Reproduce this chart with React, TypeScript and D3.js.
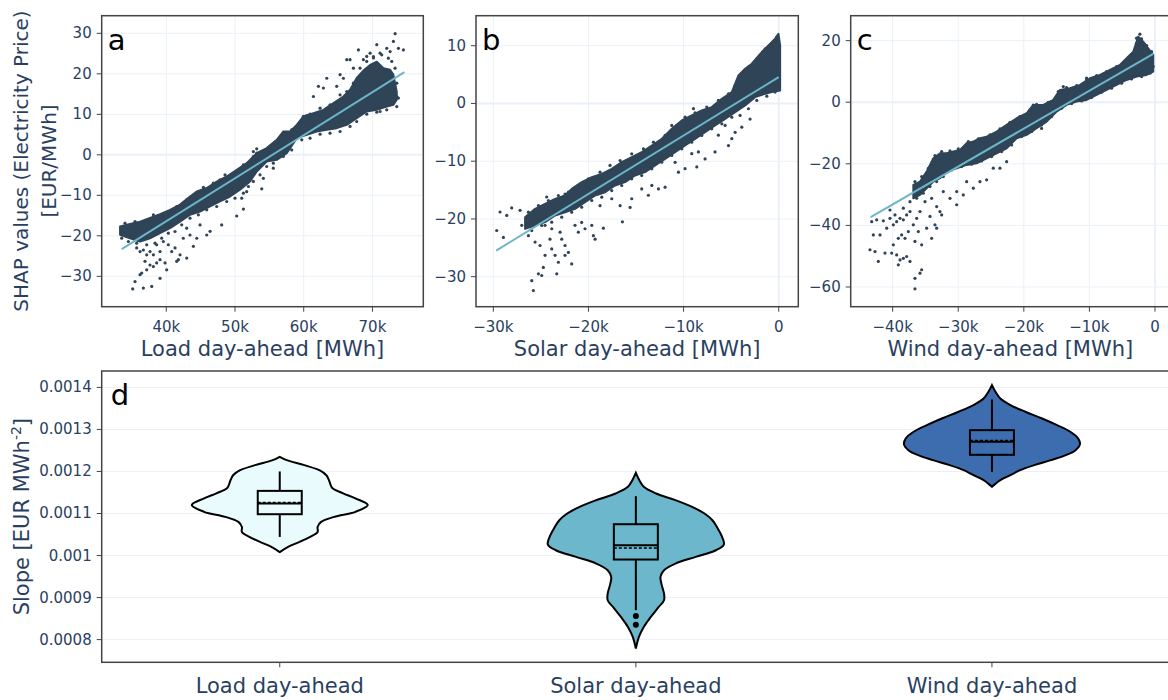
import * as d3 from 'd3';

// ---- panel a: load day-ahead vs SHAP value (MWh, EUR/MWh)
const loadUpperX = [33270, 34720, 36180, 37630, 39090, 40540, 42000, 43450, 44430, 45880, 47340, 48790, 50250, 51700, 53160, 54610, 56070, 57040, 58010, 58980, 59950, 61410, 62860, 64320, 65770, 66740, 67710, 68680, 69660, 70630, 71600, 72570, 73050, 73540];
const loadUpperY = [-17.7, -17.1, -16.5, -15.6, -14.65, -13.6, -12.3, -10.3, -9.05, -8.2, -6.6, -5.35, -3.7, -2.06, 0.41, 1.65, 3.7, 5.76, 5.76, 7.4, 9.47, 10.3, 11.1, 12.75, 14.4, 16.05, 19.0, 20.8, 22.2, 23.0, 21.4, 21.0, 19.75, 15.6];
const loadLowerX = [33270, 34720, 36180, 37630, 39090, 40540, 42000, 43450, 44910, 46370, 47820, 49280, 50730, 52190, 53160, 54610, 56070, 57530, 58980, 60440, 61890, 63350, 64800, 66260, 67710, 69170, 70630, 72080, 73050, 73540];
const loadLowerY = [-19.75, -20.6, -21.4, -20.6, -19.35, -18.1, -16.5, -14.8, -14.0, -12.75, -11.5, -10.3, -8.6, -6.6, -4.1, -1.65, -1.23, 0.41, 4.12, 4.94, 5.76, 6.17, 6.58, 7.4, 9.05, 10.7, 11.1, 11.9, 12.35, 13.6];
const loadPtsX = [
  35110, 36660, 37880, 39090, 35450, 36420, 37150, 37630, 38120, 38600, 39090, 39820, 36900, 40060, 36180, 42000,
  41510, 40790, 40300, 39570, 38600, 37630, 37150, 36660, 36180, 35690, 42480, 43450, 44430, 45880, 48060, 46370,
  50250, 51220, 50980, 51700, 53890, 54130, 55580, 58250, 44910, 42970, 43940, 42970, 41760, 41270, 39090, 38120,
  73300, 73050, 74510, 73780, 70630, 71110, 67960, 66740, 66260, 68680, 63350, 62140, 62860, 64800, 61410, 65770,
  65290, 73780, 73540, 71110, 72570, 72080, 69660, 70140, 69170, 67230, 59950, 60920, 54610, 52670, 53160,
  33990, 35450, 38120, 41510, 42970, 45400, 46850, 47820, 48550, 51220, 52670, 53160, 53890, 55100, 56560, 57530,
  58250, 60440, 60920, 62380, 63830, 65290, 66260, 67230, 68200, 69170, 70140, 71350, 72320, 72810, 73290, 73540,
  73540, 73050, 72080, 70630, 69170, 67710, 66740, 65290, 63830, 62380, 60920, 59710, 58250, 57040, 55580, 54610,
  53640, 52670, 51950, 51220, 50000, 48790, 47340, 45880, 44670, 43450, 42240, 41270, 40300, 39330, 38360, 37150,
  35690, 34480, 33510, 33750,
];
const loadPtsY = [
  -33.1, -32.9, -32.5, -30.5, -31.3, -29.2, -28.4, -27.2, -27.6, -26.7, -25.9, -26.7, -26.3, -28.4, -29.6, -24.7,
  -26.3, -23.9, -22.2, -21.4, -22.2, -23.9, -24.7, -23.5, -23.9, -23.0, -20.6, -19.8, -20.6, -19.8, -17.3, -18.9,
  -15.1, -13.4, -10.7, -9.1, -8.4, -5.8, -3.3, 1.2, -17.3, -18.1, -22.6, -25.5, -25.9, -23.0, -23.9, -24.7,
  29.9, 28.0, 25.9, 26.3, 27.2, 25.1, 25.9, 23.5, 23.5, 23.5, 18.9, 16.9, 16.5, 16.9, 14.4, 18.9,
  19.8, 14.0, 11.9, 10.7, 25.5, 26.3, 25.1, 23.9, 24.3, 21.4, 9.5, 9.5, 1.2, 0.8, 0.4,
  -16.87, -16.46, -14.81, -12.76, -11.11, -8.06, -7.0, -6.17, -4.94, -2.47, -0.41, 1.48, 0.82, 2.06, 4.12, 4.94,
  6.17, 9.71, 10.04, 11.52, 12.35, 14.82, 15.64, 17.7, 21.4, 23.05, 24.28, 24.69, 23.87, 23.05, 21.4, 17.7,
  14.4, 12.76, 11.11, 10.54, 10.04, 8.23, 7.0, 5.76, 5.35, 5.1, 4.12, 3.7, 3.29, -0.41, -2.06, -2.88,
  -4.94, -6.58, -7.82, -9.46, -10.7, -11.52, -12.76, -13.58, -14.81, -15.64, -17.28, -18.93, -19.34, -20.58, -21.81, -22.22,
  -21.81, -21.4, -20.58, -18.93,
];
const loadFitX = [33500, 74650];
const loadFitY = [-23.3, 20.4];

// ---- panel b: solar day-ahead
const solarUpperX = [-26660, -25610, -24560, -23510, -22460, -21760, -20710, -19650, -18600, -17550, -16500, -15450, -14400, -13340, -12290, -11240, -10190, -9140, -8090, -7040, -5980, -4930, -4230, -3530, -2830, -1780, -1080, -380, -30, 150];
const solarUpperY = [-19.7, -18.25, -17.39, -16.52, -15.94, -14.79, -13.63, -12.77, -12.19, -11.32, -10.17, -9.3, -8.43, -7.28, -6.12, -4.39, -2.94, -2.08, -1.21, -0.63, 0.81, 1.97, 4.87, 6.01, 6.88, 8.9, 10.05, 11.21, 12.08, 10.05];
const solarLowerX = [-26660, -25610, -24560, -23510, -22460, -21410, -20360, -19300, -18250, -17200, -16150, -15100, -14050, -12990, -11940, -10890, -9840, -8790, -7740, -6690, -5630, -4580, -3530, -2480, -1430, -730, 150];
const solarLowerY = [-21.72, -21.14, -20.56, -19.41, -18.83, -18.25, -17.1, -15.94, -15.37, -14.21, -13.63, -12.48, -11.9, -10.74, -9.59, -8.43, -7.28, -6.12, -4.97, -3.81, -2.66, -1.5, -0.34, 1.1, 1.68, 1.97, 2.25];
const solarPtsX = [
  -29640, -29290, -28590, -28070, -27190, -28940, -27010, -26490, -26310, -25610, -25090, -24560, -23860, -23510,
  -23160, -22460, -22110, -21760, -24740, -25260, -25960, -25790, -23330, -24910, -24040, -22810, -22460, -21410,
  -20710, -20360, -19650, -19480, -18430, -16430, -19300, -21060, -23860, -24390, -22460, -24560, -22980, -18780,
  -17550, -16670, -15450, -15620, -13700, -11940, -14400, -12640, -13340, -10540, -9840, -8610, -9140, -7740,
  -6690, -5280, -4580, -3880, -3010, -8440, -6340, -10890, -8960, -11240, -5630, -4930, -2130, -1080, -1250,
  -26310, -25260, -24210, -23160, -22110, -21060, -20000, -18780, -17730, -16670, -15450, -14220, -13170, -11940,
  -10720, -9840, -8790, -7560, -6340, -5280, -4580, -3880, -3180, -2300, -1430, -730, -200, -30, -30, -380,
  -1250, -2300, -3180, -4060, -4930, -5980, -7040, -8090, -9140, -10190, -11240, -12290, -13340, -14400, -15450,
  -16500, -17550, -18600, -19650, -20710, -21760, -22810, -23860, -24910, -25960,
];
const solarPtsY = [
  -22.0, -18.8, -19.4, -18.1, -18.5, -23.2, -21.1, -19.7, -22.9, -24.0, -24.6, -26.3, -25.2, -26.3,
  -27.5, -26.3, -25.8, -27.8, -28.4, -29.5, -30.7, -32.4, -29.5, -29.8, -23.5, -23.5, -24.6, -21.1,
  -20.6, -21.7, -21.1, -22.9, -21.6, -20.5, -23.5, -22.3, -21.7, -16.2, -15.7, -21.1, -22.3, -17.7,
  -16.5, -17.7, -16.5, -18.0, -15.9, -14.5, -14.8, -14.8, -14.2, -11.9, -11.3, -11.0, -8.7, -9.6,
  -8.4, -7.3, -5.0, -4.1, -2.7, -8.4, -5.5, -10.2, -0.9, -3.8, -3.8, -6.1, 8.0, 9.8, 9.2,
  -18.83, -17.68, -16.81, -15.94, -15.37, -14.21, -13.05, -11.9, -10.74, -9.88, -8.72, -7.86, -6.7, -5.54,
  -3.81, -2.37, -1.62, -0.63, 0.52, 1.68, 3.12, 5.14, 6.3, 7.74, 9.48, 10.34, 11.5, 7.17, 3.7, 1.97,
  1.27, 0.52, -0.92, -2.08, -2.37, -3.52, -4.39, -5.54, -6.7, -7.86, -9.01, -10.17, -11.32, -12.48, -13.05,
  -14.21, -15.08, -16.23, -16.81, -17.96, -18.83, -19.7, -20.56, -21.14, -22.01,
];
const solarFitX = [-29700, 0];
const solarFitY = [-25.5, 4.56];

// ---- panel c: wind day-ahead
const windUpperX = [-36850, -35830, -34820, -33800, -32780, -31770, -30750, -29740, -28720, -27700, -26690, -25670, -24150, -22620, -21100, -19570, -18560, -17030, -15510, -14490, -12970, -11440, -9920, -8400, -6870, -5350, -4330, -3310, -2550, -1790, -1030, -270];
const windUpperY = [-26.85, -25.77, -22.52, -18.19, -16.57, -16.57, -16.03, -15.48, -13.32, -12.78, -11.7, -11.16, -9.53, -7.37, -5.2, -3.58, -0.87, -0.87, 0.75, 4.0, 4.54, 5.62, 7.78, 8.87, 10.49, 12.11, 14.28, 16.44, 21.31, 19.69, 17.52, 15.36];
const windLowerX = [-36850, -35830, -34820, -33800, -32780, -31770, -30240, -28720, -27200, -25670, -24150, -22620, -21100, -19570, -18050, -16520, -15000, -13480, -11950, -10430, -8900, -7380, -5850, -4330, -2800, -1280, -270];
const windLowerY = [-31.18, -30.09, -27.93, -25.77, -24.68, -22.52, -21.44, -20.35, -19.81, -18.19, -16.57, -14.94, -11.7, -10.61, -8.45, -6.29, -3.04, -0.87, 0.21, 0.75, 2.37, 4.0, 5.62, 7.24, 8.33, 8.87, 9.95];
const windPtsX = [
  -43200, -42440, -41420, -40410, -42950, -41930, -40910, -39900, -39390, -38880, -38370, -37870, -37360, -43460,
  -42690, -42190, -41170, -40150, -39900, -39140, -38630, -38120, -37610, -36850, -36340, -35830, -39390, -38880,
  -38370, -37870, -39140, -37360, -36600, -35580, -36090, -34820, -34310, -34060, -33550, -33290, -32790, -32530,
  -35580, -35830, -36600, -36600, -35070, -34060, -33290, -31260, -30240, -29230, -27700, -26690, -25670, -24660,
  -23640, -22620, -32280, -30240, -28720, -38370, -37360, -40410, -39650,
  -2300, -2810, -2550, -1540, -1280, -13980, -18560, -17290, -10430,
  -36600, -35580, -34560, -33550, -32530, -31260, -29990, -28470, -26940, -25160, -23640, -22110, -20590, -19070,
  -18050, -16270, -14750, -13480, -11950, -10430, -8900, -7380, -5850, -4580, -3570, -2810, -2040, -1280, -520,
  -270, -770, -2040, -3570, -5090, -6620, -8140, -9670, -11190, -12710, -14240, -15760, -17290, -18810, -20340,
  -21860, -23380, -24910, -26430, -27960, -29480, -31010, -32280, -33290, -34310, -35330, -36340,
];
const windPtsY = [
  -38.8, -38.2, -38.5, -37.7, -43.1, -43.1, -40.9, -39.8, -38.8, -37.7, -38.2, -36.6, -35.5, -47.9,
  -48.5, -51.7, -49.0, -49.0, -46.3, -44.2, -43.1, -44.2, -42.0, -39.8, -37.7, -35.5, -49.6, -51.2,
  -50.7, -50.1, -52.8, -51.7, -45.2, -46.3, -42.0, -40.9, -37.1, -44.2, -39.8, -40.9, -35.5, -36.6,
  -54.4, -55.5, -57.2, -60.6, -32.3, -31.2, -33.9, -31.2, -29.0, -30.1, -27.9, -25.8, -25.2, -21.4,
  -21.4, -19.3, -29.0, -33.3, -25.8, -34.4, -32.3, -35.0, -36.6,
  22.1, 20.8, 19.7, 18.6, 17.0, 5.1, -0.9, -8.5, 7.8,
  -25.77, -24.14, -21.44, -17.32, -16.03, -15.81, -15.16, -12.78, -11.91, -10.61, -8.67, -6.5, -4.66, -2.5,
  -0.66, -0.01, 3.46, 4.75, 5.4, 7.24, 8.65, 9.95, 11.57, 13.2, 15.36, 19.15, 20.55, 18.39, 16.44,
  11.57, 9.41, 8.33, 7.57, 6.16, 4.54, 3.24, 1.51, 0.42, -0.44, -1.96, -4.66, -7.37, -9.53, -11.16,
  -13.86, -16.03, -17.65, -19.06, -20.14, -20.9, -21.98, -24.14, -25.77, -27.39, -29.55, -31.18,
];
const windFitX = [-43350, -270];
const windFitY = [-37.3, 15.7];

// ---- panel d: slope distributions
const slopeCategories = ['Load day-ahead', 'Solar day-ahead', 'Wind day-ahead'];
const violinFill = ['#e9fbfd', '#6cb7cb', '#3d6caf'];
const loadViolinV = [0.0012348, 0.0012269, 0.001215, 0.001203, 0.001191, 0.001179, 0.001167, 0.00116, 0.001148, 0.001136, 0.00112, 0.001104, 0.001092, 0.00108, 0.001068, 0.001056, 0.001044, 0.001032, 0.001021, 0.001008];
const loadViolinW = [0, 0.08, 0.28, 0.45, 0.53, 0.56, 0.58, 0.6, 0.72, 0.86, 1.0, 0.86, 0.62, 0.47, 0.43, 0.43, 0.34, 0.22, 0.1, 0];
const solarViolinV = [0.0011967, 0.0011793, 0.0011634, 0.0011475, 0.0011317, 0.0011158, 0.0010999, 0.001084, 0.0010682, 0.0010444, 0.0010261, 0.0010126, 0.0009967, 0.0009809, 0.000965, 0.0009491, 0.0009333, 0.0009094, 0.0008936, 0.0008777, 0.0008539, 0.0008301, 0.0008063, 0.0007785];
const solarViolinW = [0, 0.04, 0.09, 0.23, 0.45, 0.64, 0.78, 0.87, 0.92, 0.98, 1.0, 0.91, 0.68, 0.45, 0.32, 0.28, 0.29, 0.32, 0.32, 0.26, 0.17, 0.09, 0.035, 0];
const windViolinV = [0.0014055, 0.0013896, 0.0013737, 0.0013579, 0.001342, 0.0013261, 0.0013102, 0.0012944, 0.0012785, 0.001265, 0.0012507, 0.0012388, 0.0012269, 0.001215, 0.0012031, 0.0011912, 0.0011793, 0.0011634];
const windViolinW = [0, 0.04, 0.095, 0.21, 0.38, 0.57, 0.74, 0.89, 0.98, 1.0, 0.95, 0.84, 0.67, 0.48, 0.32, 0.21, 0.095, 0];
const boxQ1 = [0.0010983, 0.0009905, 0.0012396];
const boxQ3 = [0.0011538, 0.0010745, 0.0012983];
const boxMedian = [0.0011238, 0.0010245, 0.0012705];
const boxMean = [0.001126, 0.0010182, 0.0012737];
const whiskerLow = [0.0010443, 0.00087, 0.0011991];
const whiskerHigh = [0.0012, 0.0011412, 0.0013714];
const solarOutliers = [0.0008563, 0.0008356];

const loadXTicks = [40000, 50000, 60000, 70000];
const loadYTicks = [-30, -20, -10, 0, 10, 20, 30];
const solarXTicks = [-30000, -20000, -10000, 0];
const solarYTicks = [-30, -20, -10, 0, 10];
const windXTicks = [-40000, -30000, -20000, -10000, 0];
const windYTicks = [-60, -40, -20, 0, 20];
const slopeTicks = [0.0008, 0.0009, 0.001, 0.0011, 0.0012, 0.0013, 0.0014];

const FONT = "'DejaVu Sans', Verdana, sans-serif";
const TEXT = '#2a3f5f';
const GRID = '#ebf0f8';
const FRAME = '#444';
const DOT = '#2f4457';
const FIT = '#6cb6ca';

const minus = (s: string) => s.replace('-', '\u2212');
const fmtK = (v: number) => (v === 0 ? '0' : minus(`${v / 1000}k`));
const fmtN = (v: number) => minus(String(v));

function Scatter(props: any) {
  const p = props;
  const x = d3.scaleLinear().domain(p.xDomain).range([p.left, p.right]);
  const y = d3.scaleLinear().domain(p.yDomain).range([p.bottom, p.top]);
  // dense core of the cloud: upper edge left to right, then lower edge back
  const outline: [number, number][] = [
    ...p.upX.map((v: number, i: number) => [x(v), y(p.upY[i])] as [number, number]),
    ...p.loX.map((v: number, i: number) => [x(v), y(p.loY[i])] as [number, number]).reverse(),
  ];
  const core = d3.line().curve(d3.curveLinearClosed);
  const fit = d3
    .line<number>()
    .x((i) => x(p.fitX[i]))
    .y((i) => y(p.fitY[i]));
  const cx = (p.left + p.right) / 2;
  return (
    <g>
      {p.xTicks.map((t: number) => (
        <line key={'gx' + t} x1={x(t)} x2={x(t)} y1={p.top} y2={p.bottom} stroke={GRID} strokeWidth={t === 0 ? 2 : 1} />
      ))}
      {p.yTicks.map((t: number) => (
        <line key={'gy' + t} x1={p.left} x2={p.right} y1={y(t)} y2={y(t)} stroke={GRID} strokeWidth={t === 0 ? 2 : 1} />
      ))}
      <path d={core(outline) || ''} fill={DOT} stroke={DOT} strokeWidth={2} strokeLinejoin="round" />
      {p.ptsX.map((v: number, i: number) => (
        <circle key={'p' + i} cx={x(v)} cy={y(p.ptsY[i])} r={1.6} fill={DOT} />
      ))}
      <path d={fit([0, 1]) || ''} stroke={FIT} strokeWidth={2} fill="none" />
      <rect x={p.left} y={p.top} width={p.right - p.left} height={p.bottom - p.top} fill="none" stroke={FRAME} strokeWidth={1.5} />
      {p.xTicks.map((t: number) => (
        <g key={'tx' + t}>
          <line x1={x(t)} x2={x(t)} y1={p.bottom} y2={p.bottom + 5} stroke={FRAME} />
          <text x={x(t)} y={p.bottom + 25} textAnchor="middle" fontSize={15} fill={TEXT}>
            {fmtK(t)}
          </text>
        </g>
      ))}
      {p.yTicks.map((t: number) => (
        <g key={'ty' + t}>
          <line x1={p.left - 5} x2={p.left} y1={y(t)} y2={y(t)} stroke={FRAME} />
          <text x={p.left - 10} y={y(t) + 5} textAnchor="end" fontSize={15} fill={TEXT}>
            {fmtN(t)}
          </text>
        </g>
      ))}
      <text x={cx} y={p.bottom + 49} textAnchor="middle" fontSize={21} fill={TEXT}>
        {p.xTitle}
      </text>
      <text x={p.left + 6} y={p.top + 34} fontSize={29} fill="#000">
        {p.letter}
      </text>
    </g>
  );
}

function Violins() {
  const left = 101.7;
  const right = 1170;
  const top = 371;
  const bottom = 662.3;
  const x = d3.scaleBand().domain(slopeCategories).range([left, right]);
  const y = d3.scaleLinear().domain([0.000746, 0.001439]).range([bottom, top]);
  const halfMax = 88;
  const halfBox = 22;
  const shapes = [
    [loadViolinV, loadViolinW],
    [solarViolinV, solarViolinW],
    [windViolinV, windViolinW],
  ];
  return (
    <g>
      {slopeTicks.map((t) => (
        <line key={'g' + t} x1={left} x2={right} y1={y(t)} y2={y(t)} stroke={GRID} />
      ))}
      {slopeCategories.map((c, k) => {
        const cx = (x(c) || 0) + x.bandwidth() / 2;
        const [vs, ws] = shapes[k];
        const area = d3
          .area<number>()
          .y((i) => y(vs[i]))
          .x0((i) => cx - ws[i] * halfMax)
          .x1((i) => cx + ws[i] * halfMax)
          .curve(d3.curveCatmullRom);
        return (
          <g key={c}>
            <path d={area(d3.range(vs.length)) || ''} fill={violinFill[k]} stroke="#000" strokeWidth={2} />
            <line x1={cx} x2={cx} y1={y(whiskerHigh[k])} y2={y(boxQ3[k])} stroke="#000" strokeWidth={2} />
            <line x1={cx} x2={cx} y1={y(boxQ1[k])} y2={y(whiskerLow[k])} stroke="#000" strokeWidth={2} />
            <rect
              x={cx - halfBox}
              y={y(boxQ3[k])}
              width={halfBox * 2}
              height={y(boxQ1[k]) - y(boxQ3[k])}
              fill="none"
              stroke="#000"
              strokeWidth={2}
            />
            <line x1={cx - halfBox} x2={cx + halfBox} y1={y(boxMedian[k])} y2={y(boxMedian[k])} stroke="#000" strokeWidth={2} />
            <line
              x1={cx - halfBox}
              x2={cx + halfBox}
              y1={y(boxMean[k])}
              y2={y(boxMean[k])}
              stroke="#000"
              strokeWidth={1.5}
              strokeDasharray="3,2"
            />
            {k === 1 &&
              solarOutliers.map((o) => <circle key={o} cx={cx} cy={y(o)} r={3} fill="#000" />)}
            <line x1={cx} x2={cx} y1={bottom} y2={bottom + 5} stroke={FRAME} />
            <text x={cx} y={bottom + 31} textAnchor="middle" fontSize={21} fill={TEXT}>
              {c}
            </text>
          </g>
        );
      })}
      <rect x={left} y={top} width={right - left} height={bottom - top} fill="none" stroke={FRAME} strokeWidth={1.5} />
      {slopeTicks.map((t) => (
        <g key={'t' + t}>
          <line x1={left - 5} x2={left} y1={y(t)} y2={y(t)} stroke={FRAME} />
          <text x={left - 10} y={y(t) + 5} textAnchor="end" fontSize={15} fill={TEXT}>
            {String(t)}
          </text>
        </g>
      ))}
      <text transform={`translate(29,${(top + bottom) / 2}) rotate(-90)`} textAnchor="middle" fontSize={21} fill={TEXT}>
        Slope [EUR MWh
        <tspan fontSize={14} dy={-8}>
          -2
        </tspan>
        <tspan dy={8}>]</tspan>
      </text>
      <text x={left + 9} y={top + 34} fontSize={29} fill="#000">
        d
      </text>
    </g>
  );
}

export default function App() {
  return (
    <svg
      width={1168}
      height={700}
      style={{ position: 'absolute', left: 0, top: 0, background: '#fff', fontFamily: FONT }}
    >
      <Scatter
        left={101.7}
        right={423.3}
        top={15.7}
        bottom={306.7}
        xDomain={[30600, 77400]}
        yDomain={[-37.5, 34.35]}
        xTicks={loadXTicks}
        yTicks={loadYTicks}
        upX={loadUpperX}
        upY={loadUpperY}
        loX={loadLowerX}
        loY={loadLowerY}
        ptsX={loadPtsX}
        ptsY={loadPtsY}
        fitX={loadFitX}
        fitY={loadFitY}
        xTitle="Load day-ahead [MWh]"
        letter="a"
      />
      <Scatter
        left={476}
        right={798.3}
        top={15.7}
        bottom={306.7}
        xDomain={[-31820, 2060]}
        yDomain={[-35.2, 15.2]}
        xTicks={solarXTicks}
        yTicks={solarYTicks}
        upX={solarUpperX}
        upY={solarUpperY}
        loX={solarLowerX}
        loY={solarLowerY}
        ptsX={solarPtsX}
        ptsY={solarPtsY}
        fitX={solarFitX}
        fitY={solarFitY}
        xTitle="Solar day-ahead [MWh]"
        letter="b"
      />
      <Scatter
        left={850.7}
        right={1170}
        top={15.7}
        bottom={306.7}
        xDomain={[-46400, 2290]}
        yDomain={[-66.4, 28.1]}
        xTicks={windXTicks}
        yTicks={windYTicks}
        upX={windUpperX}
        upY={windUpperY}
        loX={windLowerX}
        loY={windLowerY}
        ptsX={windPtsX}
        ptsY={windPtsY}
        fitX={windFitX}
        fitY={windFitY}
        xTitle="Wind day-ahead [MWh]"
        letter="c"
      />
      <text transform="translate(28,161) rotate(-90)" textAnchor="middle" fontSize={20} fill={TEXT}>
        SHAP values (Electricity Price)
      </text>
      <text transform="translate(56,161) rotate(-90)" textAnchor="middle" fontSize={20} fill={TEXT}>
        [EUR/MWh]
      </text>
      <Violins />
    </svg>
  );
}
